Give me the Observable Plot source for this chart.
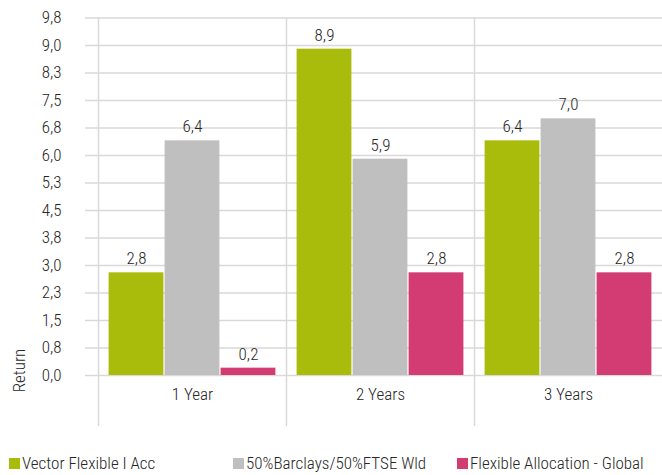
<!DOCTYPE html>
<html>
<head>
<meta charset="utf-8">
<script src="https://cdn.jsdelivr.net/npm/d3@7"></script>
<script src="https://cdn.jsdelivr.net/npm/@observablehq/plot@0.6"></script>
<style>
  body { margin: 0; background: #fff; }
  #chart { width: 662px; font-family: "Roboto Condensed", "DejaVu Sans Condensed", sans-serif; font-weight: 300; color: #262626; }
  .legend { position: relative; height: 35px; font-size: 17px; }
  .legend .item { position: absolute; top: 13px; display: flex; align-items: center; white-space: nowrap; }
  .legend .sw { width: 11px; height: 11px; margin-right: 2px; }
</style>
</head>
<body>
<div id="chart"></div>
<script>
const periods = ["1 Year", "2 Years", "3 Years"];
const seriesNames = ["Vector Flexible I Acc", "50%Barclays/50%FTSE Wld", "Flexible Allocation - Global"];
const vectorFlexible = [2.8, 8.9, 6.4];
const barclaysFtse = [6.4, 5.9, 7.0];
const flexAllocation = [0.2, 2.8, 2.8];
const colors = ["#a9bc0b", "#bfbfbf", "#d33b73"];
const yTicks = d3.range(0, 14).map(i => i * 0.75);
const legendX = [9, 233, 457];

const seriesValues = [vectorFlexible, barclaysFtse, flexAllocation];
const data = [];
periods.forEach((p, i) => {
  seriesNames.forEach((s, j) => data.push({period: p, series: s, value: seriesValues[j][i]}));
});
const fmt = d => d.toFixed(1).replace(".", ",");
const font = '"Roboto Condensed", "DejaVu Sans Condensed", sans-serif';
const gridColor = "#d9d9d9";
const textColor = "#262626";

const plot = Plot.plot({
  width: 662,
  height: 440,
  marginLeft: 98,
  marginRight: 0,
  marginTop: 17.5,
  marginBottom: 65,
  style: {fontFamily: font, fontSize: "17px", fontWeight: 300, color: textColor, overflow: "visible"},
  fx: {domain: periods, paddingInner: 0, paddingOuter: 0},
  x: {domain: seriesNames, paddingInner: 0, paddingOuter: 0.16, axis: null},
  y: {domain: [0, 9.75], ticks: yTicks},
  color: {domain: seriesNames, range: colors},
  marks: [
    Plot.gridY(yTicks, {stroke: gridColor, strokeOpacity: 1, strokeWidth: 1.5}),
    Plot.frame({anchor: "left", stroke: gridColor, strokeWidth: 1.5, insetBottom: -50}),
    Plot.axisY(yTicks, {tickSize: 13, tickPadding: 24, stroke: gridColor, strokeWidth: 1.5, strokeOpacity: 1, tickFormat: fmt, label: null, fill: textColor}),
    Plot.axisFx({anchor: "bottom", tickSize: 0, tickPadding: 12, label: null, fill: textColor}),
    Plot.barY(data, {fx: "period", x: "series", y: "value", fill: "series", insetLeft: 0.6, insetRight: 0.6}),
    Plot.text(data, {fx: "period", x: "series", y: "value", text: d => fmt(d.value), dy: -14, lineAnchor: "middle", fill: textColor, fontSize: 17}),
    Plot.text([{period: "1 Year"}], {fx: "period", frameAnchor: "bottom-left", text: () => "Return", rotate: -90, dx: -79, dy: -5, textAnchor: "middle", lineAnchor: "middle", fill: textColor, fontSize: 17})
  ]
});
document.getElementById("chart").appendChild(plot);

const legend = document.createElement("div");
legend.className = "legend";
seriesNames.forEach((s, i) => {
  const item = document.createElement("div");
  item.className = "item";
  item.style.left = legendX[i] + "px";
  const sw = document.createElement("span");
  sw.className = "sw";
  sw.style.background = colors[i];
  const t = document.createElement("span");
  t.textContent = s;
  item.appendChild(sw);
  item.appendChild(t);
  legend.appendChild(item);
});
document.getElementById("chart").appendChild(legend);
</script>
</body>
</html>
